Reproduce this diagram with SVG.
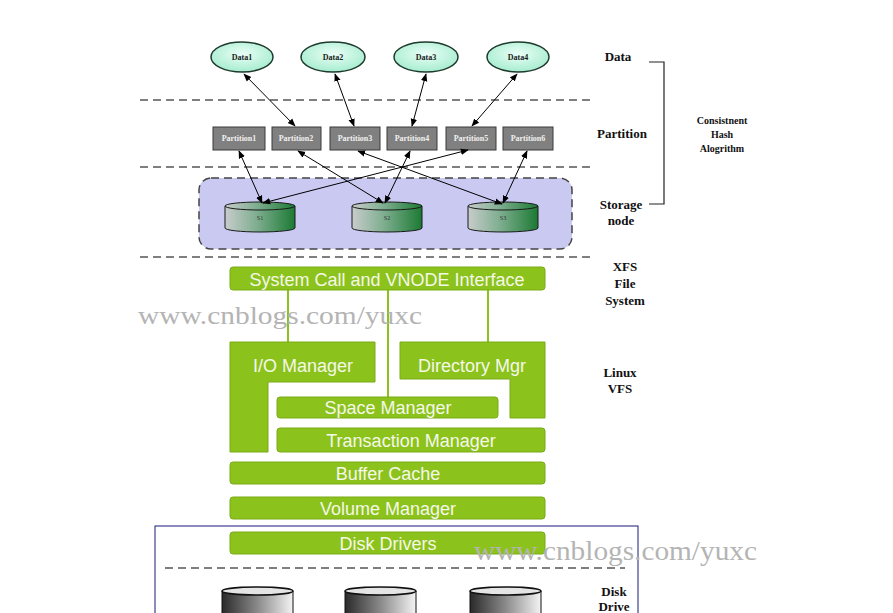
<svg xmlns="http://www.w3.org/2000/svg" width="893" height="613" viewBox="0 0 893 613">
<defs>
<radialGradient id="gData" cx="50%" cy="40%" r="60%">
<stop offset="0" stop-color="#eafff6"/>
<stop offset="1" stop-color="#a6ecd0"/>
</radialGradient>
<linearGradient id="gStore" x1="0" y1="0" x2="1" y2="0">
<stop offset="0" stop-color="#c8cccc"/>
<stop offset="0.45" stop-color="#7fae90"/>
<stop offset="1" stop-color="#1c7a34"/>
</linearGradient>
<linearGradient id="gDisk" x1="0" y1="0" x2="1" y2="0">
<stop offset="0" stop-color="#2a2a2a"/>
<stop offset="0.5" stop-color="#8a8a8a"/>
<stop offset="1" stop-color="#f4f4f4"/>
</linearGradient>
<marker id="ah" viewBox="0 0 10 10" refX="9" refY="5" markerWidth="8" markerHeight="8" orient="auto-start-reverse" markerUnits="userSpaceOnUse">
<path d="M0,1 L10,5 L0,9 Z" fill="#000"/>
</marker>
</defs>
<style>
.dash{stroke:#555;stroke-width:1.5;stroke-dasharray:8 5;fill:none}
.data{fill:url(#gData);stroke:#1e3a2c;stroke-width:1.5}
.dlab{font-family:"Liberation Serif",serif;font-weight:bold;font-size:8px;fill:#1a1a1a;text-anchor:middle}
.part{fill:#808080;stroke:#3a3a3a;stroke-width:1}
.plab{font-family:"Liberation Serif",serif;font-weight:bold;font-size:8px;fill:#f0f0f0;text-anchor:middle}
.store{fill:url(#gStore);stroke:#1a1a1a;stroke-width:1}
.slab{font-family:"Liberation Serif",serif;font-size:6px;fill:#333;text-anchor:middle}
.arr{stroke:#000;stroke-width:1;fill:none;marker-start:url(#ah);marker-end:url(#ah)}
.side{font-family:"Liberation Serif",serif;font-weight:bold;font-size:13px;fill:#111;text-anchor:middle}
.side2{font-family:"Liberation Serif",serif;font-weight:bold;font-size:10px;fill:#111;text-anchor:middle}
.grn{fill:#8cc21c;stroke:#7aab16;stroke-width:1}
.glab{font-family:"Liberation Sans",sans-serif;font-size:18px;fill:#f4f8e8;text-anchor:middle}
.gline{stroke:#8cc21c;stroke-width:2;fill:none}
.wm{font-family:"Liberation Serif",serif;fill:#b4b4b4}
.disk{fill:url(#gDisk);stroke:#111;stroke-width:1}
</style>

<g id="separators">
<line class="dash" x1="140" y1="100" x2="592" y2="100"/>
<line class="dash" x1="140" y1="167" x2="592" y2="167"/>
<line class="dash" x1="140" y1="257" x2="592" y2="257"/>
</g>

<g id="storage-container">
<rect x="199" y="178" width="373" height="71" rx="12" fill="#c9c9f2" stroke="#444" stroke-width="1.5" stroke-dasharray="8 5"/>
</g>

<g id="data1"><ellipse class="data" cx="242" cy="57" rx="31" ry="15"/><text class="dlab" x="242" y="60">Data1</text></g>
<g id="data2"><ellipse class="data" cx="333" cy="57" rx="32" ry="15"/><text class="dlab" x="333" y="60">Data2</text></g>
<g id="data3"><ellipse class="data" cx="426" cy="57" rx="32" ry="15"/><text class="dlab" x="426" y="60">Data3</text></g>
<g id="data4"><ellipse class="data" cx="518" cy="57" rx="31" ry="15"/><text class="dlab" x="518" y="60">Data4</text></g>

<g id="partition1"><rect class="part" x="213" y="127" width="52" height="23"/><text class="plab" x="239" y="141">Partition1</text></g>
<g id="partition2"><rect class="part" x="272" y="127" width="49" height="23"/><text class="plab" x="296" y="141">Partition2</text></g>
<g id="partition3"><rect class="part" x="330" y="127" width="50" height="23"/><text class="plab" x="355" y="141">Partition3</text></g>
<g id="partition4"><rect class="part" x="387" y="127" width="50" height="23"/><text class="plab" x="412" y="141">Partition4</text></g>
<g id="partition5"><rect class="part" x="446" y="127" width="50" height="23"/><text class="plab" x="471" y="141">Partition5</text></g>
<g id="partition6"><rect class="part" x="503" y="127" width="50" height="23"/><text class="plab" x="528" y="141">Partition6</text></g>

<g id="s1">
<path class="store" d="M225,206 L225,228 A35,4 0 0 0 295,228 L295,206 Z"/>
<ellipse class="store" cx="260" cy="206" rx="35" ry="4"/>
<text class="slab" x="260" y="220">S1</text>
</g>
<g id="s2">
<path class="store" d="M352,206 L352,228 A35,4 0 0 0 422,228 L422,206 Z"/>
<ellipse class="store" cx="387" cy="206" rx="35" ry="4"/>
<text class="slab" x="387" y="220">S2</text>
</g>
<g id="s3">
<path class="store" d="M468,206 L468,228 A35,4 0 0 0 538,228 L538,206 Z"/>
<ellipse class="store" cx="503" cy="206" rx="35" ry="4"/>
<text class="slab" x="503" y="220">S3</text>
</g>

<g id="connectors">
<line class="arr" x1="244" y1="74" x2="295" y2="126"/>
<line class="arr" x1="335" y1="74" x2="354" y2="126"/>
<line class="arr" x1="426" y1="74" x2="412" y2="126"/>
<line class="arr" x1="517" y1="74" x2="472" y2="126"/>
<line class="arr" x1="239" y1="151" x2="262" y2="203"/>
<line class="arr" x1="298" y1="151" x2="383" y2="203"/>
<line class="arr" x1="358" y1="151" x2="502" y2="204"/>
<line class="arr" x1="410" y1="151" x2="385" y2="203"/>
<line class="arr" x1="468" y1="150" x2="263" y2="203"/>
<line class="arr" x1="527" y1="151" x2="503" y2="203"/>
<line class="gline" x1="288" y1="290" x2="288" y2="342"/>
<line class="gline" x1="388" y1="290" x2="388" y2="397"/>
<line class="gline" x1="488" y1="290" x2="488" y2="342"/>
</g>

<g id="bracket">
<polyline points="649,62 664,62 664,204 649,204" fill="none" stroke="#222" stroke-width="1.2"/>
</g>

<g id="side-labels">
<text class="side" x="618" y="61">Data</text>
<text class="side" x="622" y="138">Partition</text>
<text class="side" x="621" y="209">Storage</text>
<text class="side" x="621" y="225">node</text>
<text class="side2" x="722" y="124">Consistnent</text>
<text class="side2" x="722" y="138">Hash</text>
<text class="side2" x="722" y="152">Alogrithm</text>
<text class="side" x="625" y="271">XFS</text>
<text class="side" x="625" y="288">File</text>
<text class="side" x="625" y="305">System</text>
<text class="side" x="620" y="377">Linux</text>
<text class="side" x="620" y="393">VFS</text>
<text class="side" x="614" y="596">Disk</text>
<text class="side" x="614" y="611">Drive</text>
</g>

<g id="syscall"><rect class="grn" x="230" y="267" width="315" height="23" rx="3"/><text class="glab" x="387" y="286">System Call and VNODE Interface</text></g>
<g id="io-manager"><path class="grn" d="M230,342 L375,342 L375,382 L268,382 L268,452 L230,452 Z"/><text class="glab" x="303" y="372">I/O Manager</text></g>
<g id="directory-mgr"><path class="grn" d="M400,342 L545,342 L545,418 L510,418 L510,379 L400,379 Z"/><text class="glab" x="472" y="372">Directory Mgr</text></g>
<g id="space-manager"><rect class="grn" x="277" y="397" width="221" height="21" rx="3"/><text class="glab" x="388" y="414">Space Manager</text></g>
<g id="transaction-manager"><rect class="grn" x="277" y="428" width="268" height="24" rx="3"/><text class="glab" x="411" y="447">Transaction Manager</text></g>
<g id="buffer-cache"><rect class="grn" x="230" y="462" width="315" height="22" rx="3"/><text class="glab" x="388" y="480">Buffer Cache</text></g>
<g id="volume-manager"><rect class="grn" x="230" y="497" width="315" height="22" rx="3"/><text class="glab" x="388" y="515">Volume Manager</text></g>

<g id="disk-drive-box">
<rect x="155" y="526" width="483" height="100" fill="none" stroke="#1a1a7a" stroke-width="1"/>
<line class="dash" x1="165" y1="568" x2="625" y2="568"/>
</g>
<g id="disk-drivers"><rect class="grn" x="230" y="532" width="315" height="22" rx="3"/><text class="glab" x="388" y="550">Disk Drivers</text></g>

<g id="disk1">
<path class="disk" d="M222,591 L222,620 L293,620 L293,591 Z"/>
<ellipse cx="257.5" cy="591" rx="35.5" ry="4" fill="#e4e4e4" stroke="#111" stroke-width="1.5"/>
</g>
<g id="disk2">
<path class="disk" d="M345,591 L345,620 L416,620 L416,591 Z"/>
<ellipse cx="380.5" cy="591" rx="35.5" ry="4" fill="#e4e4e4" stroke="#111" stroke-width="1.5"/>
</g>
<g id="disk3">
<path class="disk" d="M470,591 L470,620 L541,620 L541,591 Z"/>
<ellipse cx="505.5" cy="591" rx="35.5" ry="4" fill="#e4e4e4" stroke="#111" stroke-width="1.5"/>
</g>

<g id="watermarks">
<text class="wm" x="138" y="324" font-size="26" textLength="284" lengthAdjust="spacingAndGlyphs">www.cnblogs.com/yuxc</text>
<text class="wm" x="474" y="560" font-size="28" textLength="283" lengthAdjust="spacingAndGlyphs">www.cnblogs.com/yuxc</text>
</g>
</svg>
